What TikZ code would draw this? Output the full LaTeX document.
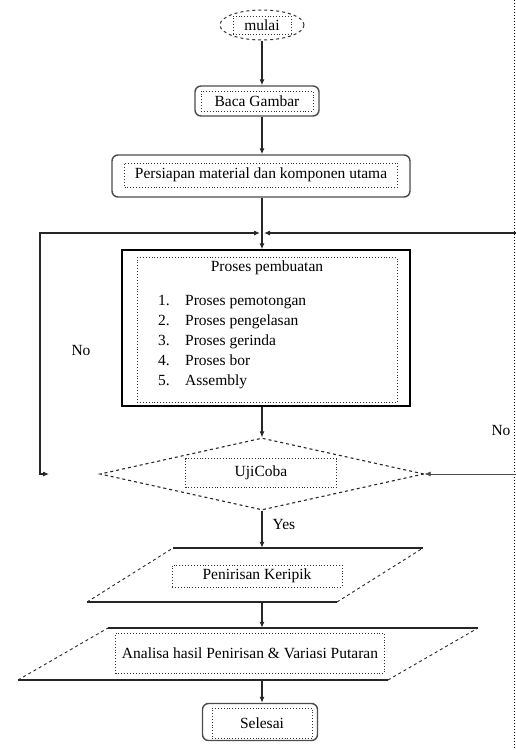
\documentclass[tikz,border=0pt]{standalone}
\usepackage{fontspec}
\setmainfont{Liberation Serif}
\usetikzlibrary{shapes.geometric,arrows.meta}
\begin{document}
\begin{tikzpicture}[x=1pt,y=-1pt,
  font=\fontsize{15.5}{20}\selectfont,
  line/.style={line width=1.1pt, draw=black!85},
  arr/.style={line, -{Latex[length=6pt,width=5pt]}},
  roundbox/.style={draw=black!70, line width=1.4pt, rounded corners=6pt, inner sep=0pt},
  inbox/.style={draw=black!80, dotted, line width=0.9pt, inner sep=0pt},
  plainbox/.style={draw=black, line width=1.4pt, inner sep=0pt},
  ghost/.style={draw=none, inner sep=0pt, minimum width=10pt},
  lbl/.style={inner sep=0pt}
]
\useasboundingbox (0,0) rectangle (516,750);

% right dotted border line
\draw[dotted, line width=1pt] (514,0) -- (514,750);

% start
\node[ellipse, draw=black!80, dashed, line width=1pt, minimum width=84pt, minimum height=30pt, inner sep=0pt] (start) at (262,25) {};
\node[inbox, minimum width=58pt, minimum height=18pt] (startt) at (262,25) {mulai};

% Baca Gambar
\node[roundbox, minimum width=124pt, minimum height=30pt] (baca) at (257,101) {};
\node[inbox, minimum width=112pt, minimum height=20pt] (bacat) at (257,101) {Baca Gambar};

% Persiapan
\node[roundbox, minimum width=298pt, minimum height=42pt] (pers) at (261,176) {};
\node[inbox, minimum width=273pt, minimum height=24pt] (perst) at (261,175) {Persiapan material dan komponen utama};

% Proses pembuatan
\node[plainbox, minimum width=288pt, minimum height=156pt] (pb) at (266,328) {};
\node[inbox, minimum width=260pt, minimum height=145pt] (pbin) at (267,330) {};
\node[lbl] (pbtitle) at (267,268) {Proses pembuatan};
\node[lbl, anchor=north west, align=left] (pblist) at (158,295) {%
\makebox[27pt][l]{1.}Proses pemotongan\\
\makebox[27pt][l]{2.}Proses pengelasan\\
\makebox[27pt][l]{3.}Proses gerinda\\
\makebox[27pt][l]{4.}Proses bor\\
\makebox[27pt][l]{5.}Assembly};

% decision
\node[diamond, draw=black!85, dashed, line width=1.1pt, minimum width=324pt, minimum height=72pt, inner sep=0pt] (dia) at (262,474) {};
\node[inbox, minimum width=151pt, minimum height=29pt] (diat) at (261,473) {UjiCoba};

% parallelogram 1
\node[ghost, minimum height=54pt] (p1) at (262,575) {};
\draw[line] (173,548) -- (423,548);
\draw[line] (87,602) -- (337,602);
\draw[line, dashed, line width=0.9pt] (87,602) -- (173,548);
\draw[line, dashed, line width=0.9pt] (337,602) -- (423,548);
\node[inbox, minimum width=170pt, minimum height=22pt] (p1t) at (257,576) {Penirisan Keripik};

% parallelogram 2
\node[ghost, minimum height=52pt] (p2) at (262,654) {};
\draw[line] (108,628) -- (478,628);
\draw[line] (18,680) -- (388,680);
\draw[line, dashed, line width=0.9pt] (18,680) -- (108,628);
\draw[line, dashed, line width=0.9pt] (388,680) -- (478,628);
\node[inbox, minimum width=269pt, minimum height=40pt] (p2t) at (250,653) {Analisa hasil Penirisan \& Variasi Putaran};

% end
\node[roundbox, minimum width=115pt, minimum height=37pt] (end) at (260,722) {};
\node[inbox, minimum width=100pt, minimum height=30pt] (endt) at (262,723) {Selesai};

% junction and loop coordinates
\coordinate (J) at (262,233);
\coordinate (LT) at (40,233);
\coordinate (LB) at (40,474);
\coordinate (LBt) at (49,474);
\coordinate (RT) at (516,233);
\coordinate (RB) at (516,474);

% connectors
\draw[arr] (start.south) -- (start.south |- baca.north);
\draw[arr] (baca.south -| start.south) -- (start.south |- pers.north);
\draw[line] (J |- pers.south) -- (J);
\draw[line, {Latex[length=6pt,width=5pt]}-{Latex[length=6pt,width=5pt]}] (LBt) -- (LB) -- (LT) -- ([xshift=-2pt]J);
\draw[arr] (RT) -- ([xshift=2pt]J);
\draw[arr] (J) -- (J |- pb.north);
\draw[arr] (dia.north |- pb.south) -- (dia.north);
\draw[line width=0.6pt, draw=black!70, -{Latex[length=6pt,width=5pt]}] (RB) -- (dia.east);
\draw[arr] (dia.south) -- (p1.north);
\draw[arr] (p1.south) -- (p2.north);
\draw[arr] (p2.south) -- (p2.south |- end.north);

% labels
\node[lbl] (no1) at (81,350) {No};
\node[lbl] (no2) at (501,430) {No};
\node[lbl] (yes) at (284,524) {Yes};
\end{tikzpicture}
\end{document}
